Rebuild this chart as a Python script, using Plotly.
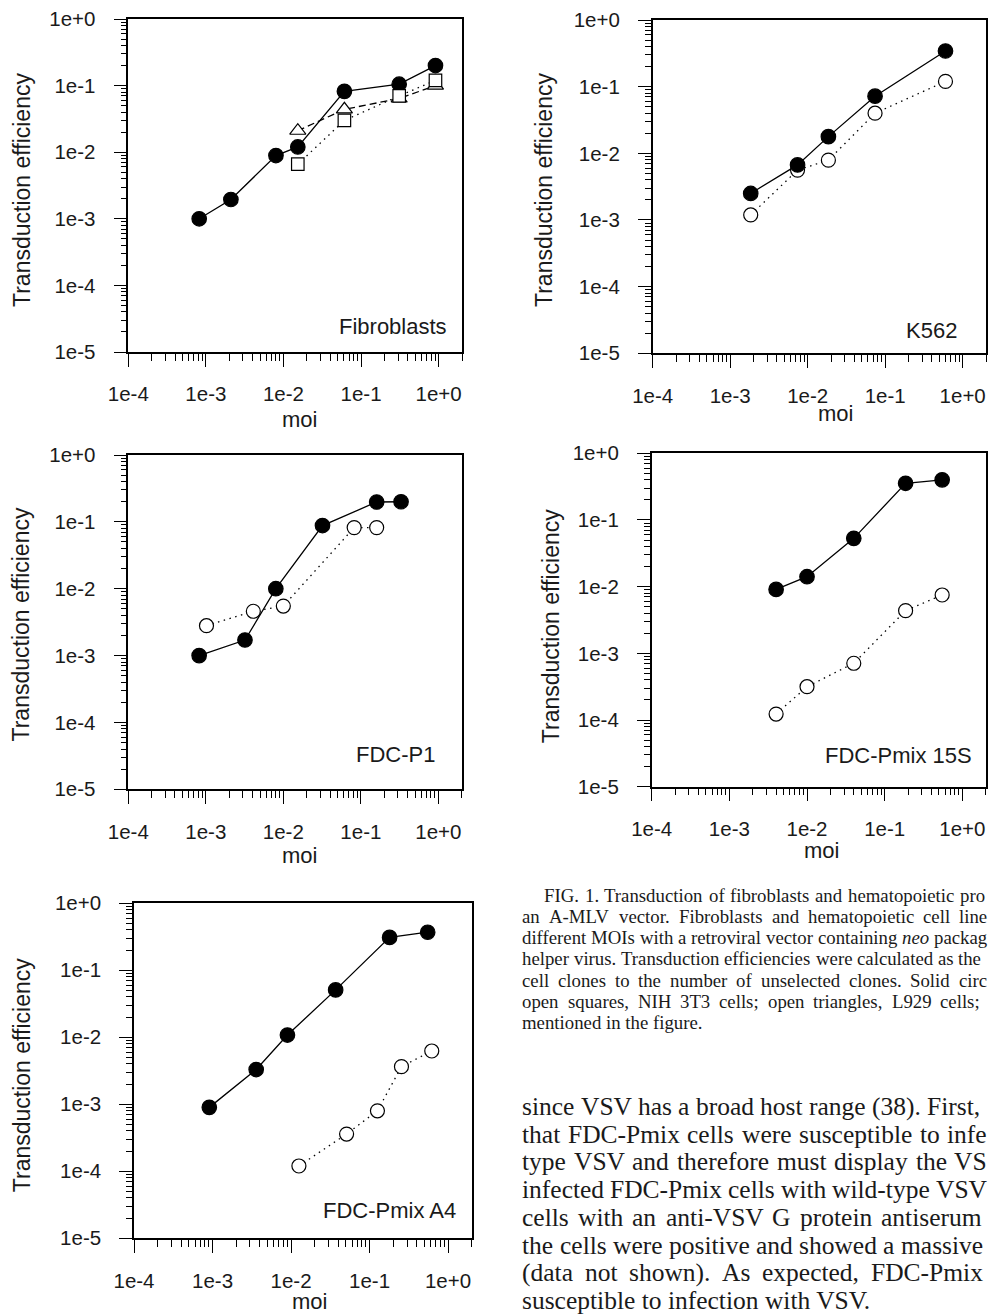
import math
import plotly.graph_objects as go

W, H = 990, 1316

# ---------------- data: moi (x) and transduction efficiency (y) ----------------
# Panel 1: Fibroblasts
fib_circle_moi = [8.2e-4, 2.1e-3, 8.0e-3, 0.0153, 0.061, 0.31, 0.91]
fib_circle_te = [1.0e-3, 1.95e-3, 8.9e-3, 0.012, 0.082, 0.105, 0.20]
fib_square_moi = [0.0153, 0.061, 0.31, 0.91]
fib_square_te = [0.0066, 0.030, 0.070, 0.12]
fib_triangle_moi = [0.0153, 0.061, 0.31, 0.91]
fib_triangle_te = [0.021, 0.044, 0.064, 0.10]

# Panel 2: K562
k562_moi = [1.84e-3, 7.4e-3, 0.0185, 0.074, 0.60]
k562_solid_te = [2.5e-3, 6.7e-3, 0.0178, 0.072, 0.343]
k562_open_te = [1.19e-3, 5.6e-3, 7.9e-3, 0.040, 0.12]

# Panel 3: FDC-P1
p1_solid_moi = [8.2e-4, 3.2e-3, 8.0e-3, 0.032, 0.16, 0.33]
p1_solid_te = [1.0e-3, 1.71e-3, 0.010, 0.088, 0.198, 0.20]
p1_open_moi = [1.02e-3, 4.1e-3, 0.010, 0.082, 0.16]
p1_open_te = [2.8e-3, 4.6e-3, 5.5e-3, 0.082, 0.082]

# Panel 4: FDC-Pmix 15S
s15_moi = [4.0e-3, 0.010, 0.040, 0.186, 0.55]
s15_solid_te = [9.1e-3, 0.0141, 0.053, 0.355, 0.40]
s15_open_te = [1.23e-4, 3.16e-4, 7.1e-4, 4.37e-3, 7.5e-3]

# Panel 5: FDC-Pmix A4
a4_solid_moi = [9.1e-4, 3.6e-3, 9.0e-3, 0.037, 0.18, 0.55]
a4_solid_te = [9.0e-4, 3.3e-3, 0.0108, 0.051, 0.31, 0.37]
a4_open_moi = [0.0126, 0.051, 0.126, 0.255, 0.62]
a4_open_te = [1.2e-4, 3.6e-4, 8.0e-4, 3.65e-3, 6.25e-3]

# tick labels / names
x_tick_vals = [1e-4, 1e-3, 1e-2, 1e-1, 1e0]
x_tick_text = ["1e-4", "1e-3", "1e-2", "1e-1", "1e+0"]
y_tick_vals = [1e-5, 1e-4, 1e-3, 1e-2, 1e-1, 1e0]
y_tick_text = ["1e-5", "1e-4", "1e-3", "1e-2", "1e-1", "1e+0"]
panel_names = ["Fibroblasts", "K562", "FDC-P1", "FDC-Pmix 15S", "FDC-Pmix A4"]
x_title = "moi"
y_title = "Transduction efficiency"

caption_lines = [
    "FIG. 1. Transduction of fibroblasts and hematopoietic pro",
    "an A-MLV vector. Fibroblasts and hematopoietic cell line",
    "different MOIs with a retroviral vector containing <i>neo</i> packag",
    "helper virus. Transduction efficiencies were calculated as the",
    "cell clones to the number of unselected clones. Solid circ",
    "open squares, NIH 3T3 cells; open triangles, L929 cells;",
    "mentioned in the figure.",
]
body_lines = [
    "since VSV has a broad host range (38). First,",
    "that FDC-Pmix cells were susceptible to infe",
    "type VSV and therefore must display the VS",
    "infected FDC-Pmix cells with wild-type VSV",
    "cells with an anti-VSV G protein antiserum",
    "the cells were positive and showed a massive",
    "(data not shown). As expected, FDC-Pmix",
    "susceptible to infection with VSV.",
]

# ---------------- styling ----------------
SANS = "Liberation Sans, Arial, Helvetica, sans-serif"
SERIF = "Liberation Serif, Times New Roman, serif"
INK = "#1a1a1a"

STY = {
    "solid": dict(symbol="circle", size=14.5, fill="black", dash="solid"),
    "open": dict(symbol="circle", size=14, fill="white", dash="1.5px,4.5px"),
    "square": dict(symbol="square", size=12.5, fill="white", dash="1.5px,4.5px"),
    "triangle": dict(symbol="triangle-up", size=14, fill="white", dash="7px,4px"),
}

panels = [
    [("triangle", fib_triangle_moi, fib_triangle_te),
     ("solid", fib_circle_moi, fib_circle_te),
     ("square", fib_square_moi, fib_square_te)],
    [("open", k562_moi, k562_open_te),
     ("solid", k562_moi, k562_solid_te)],
    [("open", p1_open_moi, p1_open_te),
     ("solid", p1_solid_moi, p1_solid_te)],
    [("open", s15_moi, s15_open_te),
     ("solid", s15_moi, s15_solid_te)],
    [("open", a4_open_moi, a4_open_te),
     ("solid", a4_solid_moi, a4_solid_te)],
]

# panel geometry in page pixels
GEOM = [
    dict(l=128.3, t=19.0, r=462.0, b=352.0, yt=(22.0, 190.0), moi=(299.0, 427.3), lab=(446.7, 334.3)),
    dict(l=652.7, t=20.0, r=986.0, b=353.3, yt=(544.0, 190.0), moi=(835.0, 420.7), lab=(956.7, 338.3)),
    dict(l=128.3, t=455.0, r=461.7, b=789.3, yt=(20.5, 625.0), moi=(299.0, 863.0), lab=(435.0, 761.7)),
    dict(l=651.7, t=453.3, r=985.7, b=786.7, yt=(550.5, 626.7), moi=(821.7, 858.3), lab=(971.7, 763.3)),
    dict(l=134.0, t=903.3, r=471.7, b=1238.3, yt=(22.2, 1075.0), moi=(309.0, 1309.5), lab=(456.0, 1218.3)),
]

def fx(p):
    return p / W

def fy(p):
    return 1 - p / H

x_minor = [m * 10.0 ** e for e in range(-4, 1) for m in range(2, 10)] + [2.0]
y_minor = [m * 10.0 ** e for e in range(-5, 0) for m in range(2, 10)]

fig = go.Figure()
layout = dict(
    width=W, height=H, margin=dict(l=0, r=0, t=0, b=0, pad=0, autoexpand=False),
    paper_bgcolor="white", plot_bgcolor="white", showlegend=False,
)
annotations = []

for i, (series, g) in enumerate(zip(panels, GEOM)):
    sfx = "" if i == 0 else str(i + 1)
    for kind, xs, ys in series:
        s = STY[kind]
        fig.add_trace(go.Scatter(
            x=xs, y=ys, mode="lines+markers", xaxis="x" + sfx, yaxis="y" + sfx,
            line=dict(color="black", width=1.3, dash=s["dash"]),
            marker=dict(symbol=s["symbol"], size=s["size"], color=s["fill"],
                        line=dict(color="black", width=1.2)),
            cliponaxis=False, hoverinfo="skip",
        ))
    common = dict(
        type="log", showline=True, linecolor="black", linewidth=1.5, mirror=True,
        ticks="outside", ticklen=13, tickwidth=1.3, tickcolor="black",
        showgrid=False, zeroline=False, tickmode="array", automargin=False,
        tickfont=dict(family=SANS, size=20.5, color=INK),
    )
    layout["xaxis" + sfx] = dict(
        common, domain=[fx(g["l"]), fx(g["r"])], anchor="y" + sfx,
        range=[-4, math.log10(2)], tickvals=x_tick_vals, ticktext=x_tick_text,
        ticklabelstandoff=10,
        minor=dict(tickmode="array", tickvals=x_minor, ticks="outside", ticklen=7,
                   tickwidth=1, tickcolor="black", showgrid=False),
    )
    layout["yaxis" + sfx] = dict(
        common, domain=[fy(g["b"]), fy(g["t"])], anchor="x" + sfx,
        range=[-5, 0], tickvals=y_tick_vals, ticktext=y_tick_text,
        ticklabelstandoff=14,
        minor=dict(tickmode="array", tickvals=y_minor, ticks="outside", ticklen=6,
                   tickwidth=1, tickcolor="black", showgrid=False),
    )
    # axis titles and panel label
    annotations.append(dict(
        text=y_title, textangle=-90, xref="paper", yref="paper",
        x=fx(g["yt"][0]), y=fy(g["yt"][1]), xanchor="center", yanchor="middle",
        showarrow=False, font=dict(family=SANS, size=23, color=INK), borderpad=0, borderwidth=0,
    ))
    annotations.append(dict(
        text=x_title, xref="paper", yref="paper",
        x=fx(g["moi"][0]), y=fy(g["moi"][1] - 0.347 * 22), xanchor="center", yanchor="middle",
        showarrow=False, font=dict(family=SANS, size=22, color=INK), borderpad=0, borderwidth=0,
    ))
    annotations.append(dict(
        text=panel_names[i], xref="paper", yref="paper",
        x=fx(g["lab"][0]), y=fy(g["lab"][1] - 0.347 * 22), xanchor="right", yanchor="middle",
        showarrow=False, font=dict(family=SANS, size=22, color=INK), borderpad=0, borderwidth=0,
    ))

# ---------------- justified serif text (caption and body) ----------------
TW = {' ': 250, '.': 250, ',': 250, ';': 278, ':': 278, '(': 333, ')': 333, '-': 333}
TW.update(dict(zip("abcdefghijklmnopqrstuvwxyz",
                   [444, 500, 444, 500, 444, 333, 500, 500, 278, 278, 500, 278, 778,
                    500, 500, 500, 500, 333, 389, 278, 500, 500, 722, 500, 500, 444])))
TW.update(dict(zip("ABCDEFGHIJKLMNOPQRSTUVWXYZ",
                   [722, 667, 667, 722, 611, 556, 722, 722, 333, 389, 722, 611, 889,
                    722, 722, 556, 722, 667, 556, 611, 722, 722, 944, 722, 722, 611])))

def word_width(w, fs):
    plain = w.replace("<i>", "").replace("</i>", "")
    return sum(TW.get(c, 500) for c in plain) / 1000.0 * fs

def add_text_line(text, x0, x1, baseline, fs):
    cy = baseline - 0.34 * fs
    if x1 is None:
        annotations.append(dict(
            text=text, xref="paper", yref="paper", x=fx(x0), y=fy(cy),
            xanchor="left", yanchor="middle", showarrow=False, borderpad=0, borderwidth=0,
            font=dict(family=SERIF, size=fs, color=INK)))
        return
    words = text.split(" ")
    widths = [word_width(w, fs) for w in words]
    gap = (x1 - x0 - sum(widths)) / (len(words) - 1)
    x = x0
    for w, wd in zip(words, widths):
        annotations.append(dict(
            text=w, xref="paper", yref="paper", x=fx(x), y=fy(cy),
            xanchor="left", yanchor="middle", showarrow=False, borderpad=0, borderwidth=0,
            font=dict(family=SERIF, size=fs, color=INK)))
        x += wd + gap

cap_fs = 18.8
cap_spans = [(544, 985), (522, 987), (522, 987), (522, 981), (522, 987), (522, 980), (522, None)]
for k, (line, (a, b)) in enumerate(zip(caption_lines, cap_spans)):
    add_text_line(line, a, b, 901.7 + 21.2 * k, cap_fs)

body_fs = 25.5
body_spans = [(522, 980), (522, 987), (522, 987), (522, 987), (522, 982), (522, 983), (522, 983), (522, None)]
for k, (line, (a, b)) in enumerate(zip(body_lines, body_spans)):
    add_text_line(line, a, b, 1115.0 + 27.76 * k, body_fs)

layout["annotations"] = annotations
fig.update_layout(**layout)
fig.write_html("out.html")
